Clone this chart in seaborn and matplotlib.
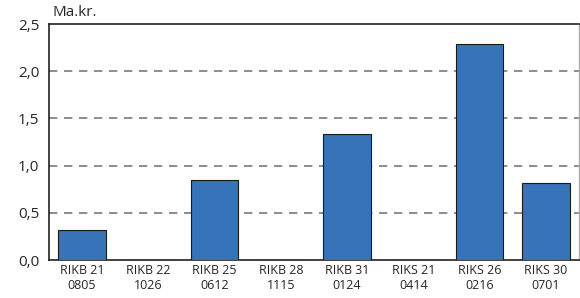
import numpy as np
import pandas as pd
import matplotlib
matplotlib.use("Agg")
import matplotlib.pyplot as plt
import seaborn as sns

categories = ["RIKB 21\n0805", "RIKB 22\n1026", "RIKB 25\n0612", "RIKB 28\n1115",
              "RIKB 31\n0124", "RIKS 21\n0414", "RIKS 26\n0216", "RIKS 30\n0701"]
values = [0.32, 0.0, 0.85, 0.0, 1.33, 0.0, 2.29, 0.82]
yticks = [0.0, 0.5, 1.0, 1.5, 2.0, 2.5]
ytick_labels = ["0,0", "0,5", "1,0", "1,5", "2,0", "2,5"]

sns.set_style("white")
plt.rcParams["font.family"] = ["Open Sans", "DejaVu Sans"]

df = pd.DataFrame({"bond": categories, "value": values})

fig = plt.figure(figsize=(5.8, 2.98), dpi=100)
ax = fig.add_axes([49 / 580, 1 - 260 / 298, 530 / 580, 236 / 298])

sns.barplot(data=df, x="bond", y="value", color="#3673b8", saturation=1,
            width=0.72, edgecolor="#1a1a1a", linewidth=0.8, ax=ax, zorder=3)

ax.set_xlim(-0.5, len(categories) - 0.5)
ax.set_ylim(0, 2.5)
ax.set_yticks(yticks)
ax.set_yticklabels(ytick_labels, fontsize=11)
for y in yticks[1:-1]:
    ax.axhline(y, color="#7a7a7a", lw=1.2, ls=(0, (5, 4)), zorder=1)

ax.set_xlabel("")
ax.set_ylabel("")
ax.tick_params(axis="x", which="major", length=0, labelsize=9, pad=3)
ax.tick_params(axis="y", length=0, pad=7)
ax.set_xticks(np.arange(-0.5, len(categories)), minor=True)
ax.tick_params(axis="x", which="minor", length=6, width=1, color="#333333", direction="out")

for side in ["left", "top", "bottom"]:
    ax.spines[side].set_color("#222222")
    ax.spines[side].set_linewidth(1.2)
ax.spines["right"].set_color("#aaaaaa")
ax.spines["right"].set_linewidth(1)

fig.text(52 / 580, 1 - 13 / 298, "Ma.kr.", fontsize=11, va="center", ha="left")

fig.savefig("out.png", dpi=100)
